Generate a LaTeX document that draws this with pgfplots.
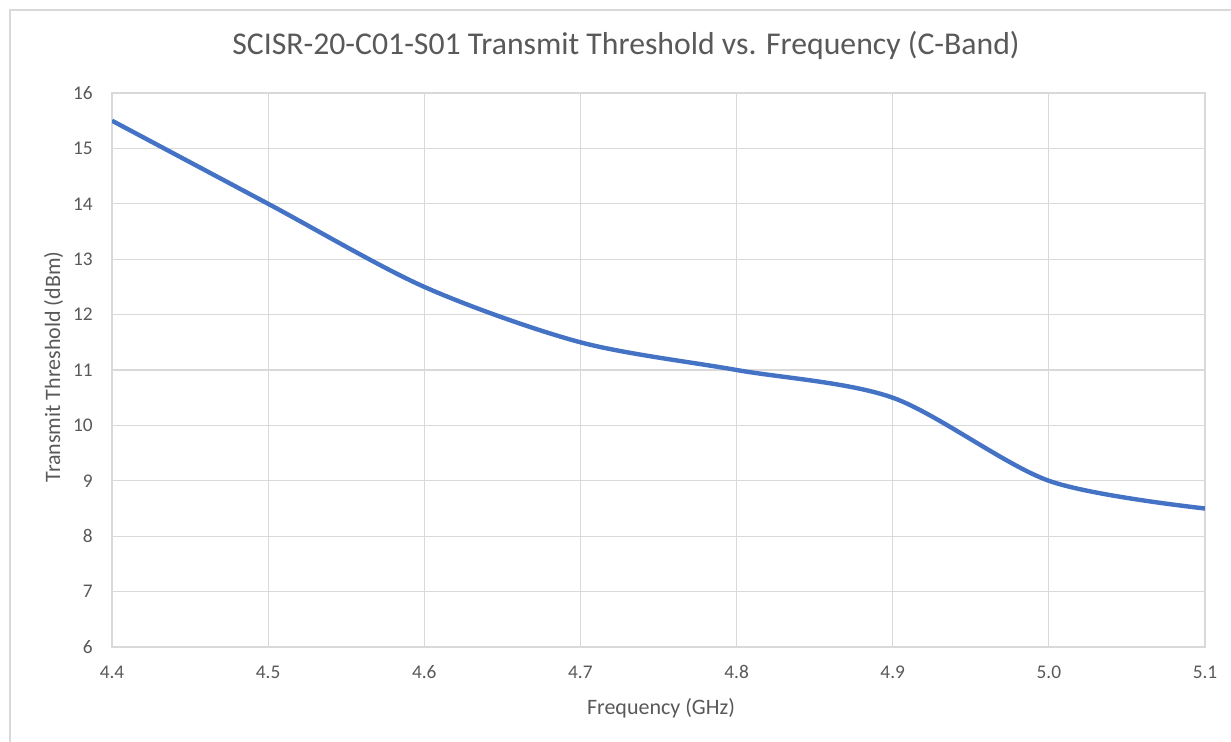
\documentclass[border=0pt]{standalone}
\usepackage{pgfplots}
\pgfplotsset{compat=1.18}
\usepackage{fontspec}
\setmainfont{Carlito}
\definecolor{txt}{RGB}{89,89,89}
\definecolor{grd}{RGB}{217,217,217}
\definecolor{ln}{RGB}{68,114,196}
\begin{document}
\begin{tikzpicture}
\useasboundingbox (0,0) rectangle (923.25pt,556.5pt);
\fill[white] (0,0) rectangle (923.25pt,556.5pt);
\draw[grd, line width=1pt] (7.5pt,0) -- (7.5pt,549pt) -- (923.25pt,549pt);
\begin{axis}[
  at={(84pt,71.25pt)}, anchor=south west,
  scale only axis,
  width=819.75pt, height=415.5pt,
  xmin=4.4, xmax=5.1, ymin=6, ymax=16,
  xtick={4.4,4.5,...,5.1},
  xticklabels={4.4,4.5,4.6,4.7,4.8,4.9,5.0,5.1},
  ytick={6,7,...,16},
  grid=major,
  major grid style={grd, line width=0.9pt},
  axis line style={grd, line width=0.9pt},
  tick style={draw=none},
  ticklabel style={font=\fontsize{14.5}{16}\selectfont, text=txt, inner sep=0pt},
  /pgf/number format/assume math mode=true,
  yticklabel style={anchor=east, xshift=-14.25pt},
  xticklabel style={anchor=center, yshift=-18.75pt},
  clip=true,
]
\addplot[ln, line width=3.3pt, smooth] coordinates {
  (4.4,15.5) (4.5,14) (4.6,12.5) (4.7,11.5) (4.8,11) (4.9,10.5) (5.0,9) (5.1,8.5)
};
\end{axis}
\node[anchor=base, text=txt, font=\fontsize{23.8}{27}\selectfont] at (469.5pt,515.25pt)
  {SCISR-20-C01-S01 Transmit Threshold vs. Frequency (C-Band)};
\node[anchor=base, text=txt, font=\fontsize{16.5}{19}\selectfont] at (495.75pt,20.25pt)
  {Frequency (GHz)};
\node[anchor=base, rotate=90, text=txt, font=\fontsize{16.5}{19}\selectfont] at (45pt,281.25pt)
  {Transmit Threshold (dBm)};
\end{tikzpicture}
\end{document}
